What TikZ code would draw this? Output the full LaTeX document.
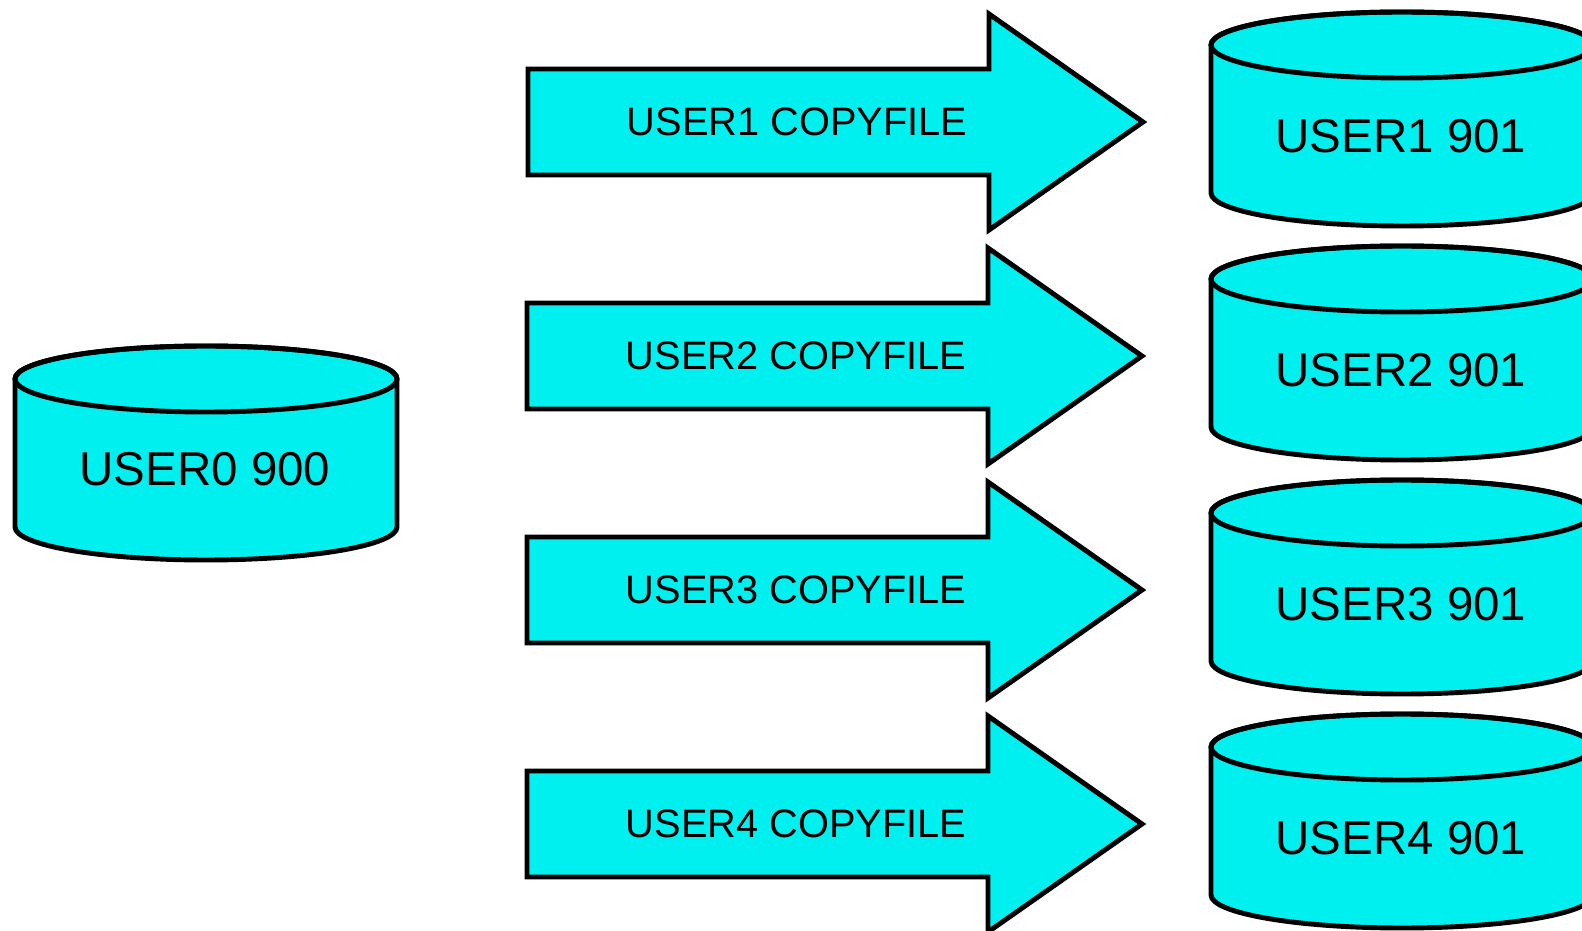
\documentclass[tikz,border=0pt]{standalone}
\usepackage{fontspec}
\setmainfont{Liberation Sans}
\definecolor{diskcyan}{RGB}{0,240,240}

\begin{document}
\begin{tikzpicture}[
            x=0.01cm, y=0.01cm,
            line width=1.4pt, line join=miter,
            disklabel/.style={font=\fontsize{13.5}{16}\selectfont, inner sep=0pt},
            copylabel/.style={font=\fontsize{11.3}{13}\selectfont, inner sep=0pt},
            pics/disk/.style={code={
                \filldraw[fill=diskcyan] (-191,0) -- (-191,-148)
                  arc[start angle=180, end angle=360, x radius=191, y radius=33]
                  -- (191,0)
                  arc[start angle=0, end angle=180, x radius=191, y radius=33] -- cycle;
                \draw (0,0) ellipse[x radius=191, y radius=33];
            }},
            pics/copyarrow/.style={code={
                \filldraw[fill=diskcyan] (0,-53) -- (461,-53) -- (461,-108) -- (615,0)
                  -- (461,108) -- (461,53) -- (0,53) -- cycle;
            }}
            ]
            \useasboundingbox (0,0) rectangle (1582,930);
            \clip (0,0) rectangle (1582,930);

            % source disk
            \pic at (206,551) {disk};
            \node[disklabel] (user0) at (205,461) {USER0 900};

            % copy arrows
            \pic at (528,808) {copyarrow};
            \node[copylabel] (copy1) at (797,808) {USER1 COPYFILE};
            \pic at (527,574) {copyarrow};
            \node[copylabel] (copy2) at (796,574) {USER2 COPYFILE};
            \pic at (527,340) {copyarrow};
            \node[copylabel] (copy3) at (796,340) {USER3 COPYFILE};
            \pic at (527,106) {copyarrow};
            \node[copylabel] (copy4) at (796,106) {USER4 COPYFILE};

            % target disks
            \pic at (1402,885) {disk};
            \node[disklabel] (user1) at (1401,794) {USER1 901};
            \pic at (1402,651) {disk};
            \node[disklabel] (user2) at (1401,560) {USER2 901};
            \pic at (1402,417) {disk};
            \node[disklabel] (user3) at (1401,326) {USER3 901};
            \pic at (1402,183) {disk};
            \node[disklabel] (user4) at (1401,92) {USER4 901};
        \end{tikzpicture}
\end{document}
